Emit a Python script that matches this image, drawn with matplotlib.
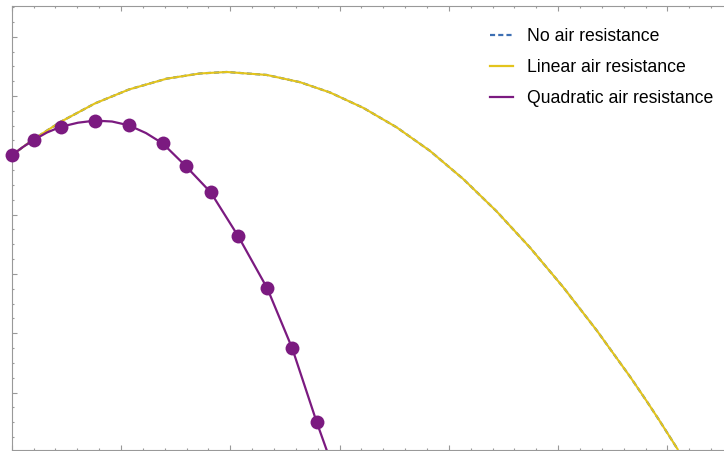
import matplotlib
matplotlib.use("Agg")
import matplotlib.pyplot as plt
from matplotlib.ticker import MultipleLocator, NullFormatter
from matplotlib.lines import Line2D

plt.rcParams['font.family'] = ['Liberation Sans', 'DejaVu Sans']

# trajectory without drag and with linear drag (they practically coincide)
x_free = [0, 2.07, 4.48, 7.62, 10.73, 14.18, 17.23, 19.67, 23.33, 26.38, 29.12,
          32.17, 35.22, 38.27, 41.32, 44.37, 47.42, 50.47, 53.52, 56.57, 58.10, 59.26, 60.93]
y_free = [0, 0.56, 1.13, 1.75, 2.22, 2.585, 2.76, 2.81, 2.71, 2.466, 2.12,
          1.60, 0.944, 0.15, -0.80, -1.89, -3.11, -4.45, -5.90, -7.46, -8.29, -8.94, -9.91]
x_lin = list(x_free)
y_lin = list(y_free)

# quadratic drag: smooth path and the sampled positions
x_quad = [0, 1.03, 2.07, 3.23, 4.48, 6.07, 7.62, 9.18, 10.73, 12.29, 13.82,
          15.92, 18.21, 20.73, 23.39, 25.67, 27.90, 28.80]
y_quad = [0, 0.28, 0.53, 0.77, 0.96, 1.10, 1.17, 1.14, 1.01, 0.75, 0.40,
          -0.36, -1.25, -2.73, -4.49, -6.51, -8.99, -9.92]
x_pts = [0, 2.07, 4.48, 7.62, 10.73, 13.82, 15.92, 18.21, 20.73, 23.39, 25.67, 27.90]
y_pts = [0, 0.53, 0.96, 1.17, 1.01, 0.40, -0.36, -1.25, -2.73, -4.49, -6.51, -8.99]

labels = ["No air resistance", "Linear air resistance", "Quadratic air resistance"]
c_blue = "#3d6fb3"
c_yel = "#e3c41d"
c_pur = "#7b1a80"
dash = (2.3, 1.4)

W, H = 724, 451
fig = plt.figure(figsize=(W / 100, H / 100), dpi=100)
# frame continues past the right edge of the image
left, right, top, bottom = 11.7, 735, 6, 449.5
ax = fig.add_axes([left / W, 1 - bottom / H, (right - left) / W, (bottom - top) / H])

ax.plot(x_free, y_free, color=c_blue, lw=1.6, dashes=dash, zorder=2)
ax.plot(x_lin, y_lin, color=c_yel, lw=1.5, zorder=3)
ax.plot(x_quad, y_quad, color=c_pur, lw=1.6, zorder=4)
ax.plot(x_pts, y_pts, 'o', color=c_pur, ms=10, mec='none', zorder=5, clip_on=False)

ax.set_xlim(0, 66.18)
ax.set_ylim(-9.92, 5.035)

ax.xaxis.set_major_locator(MultipleLocator(10))
ax.xaxis.set_minor_locator(MultipleLocator(2))
ax.yaxis.set_major_locator(MultipleLocator(2))
ax.yaxis.set_minor_locator(MultipleLocator(0.5))
ax.xaxis.set_major_formatter(NullFormatter())
ax.yaxis.set_major_formatter(NullFormatter())
ax.tick_params(which='both', direction='in', top=True, right=True, color='#999999', width=0.8)
ax.tick_params(which='major', length=3.3)
ax.tick_params(which='minor', length=1.6)
for s in ax.spines.values():
    s.set_color('#999999')
    s.set_linewidth(0.8)

handles = [Line2D([], [], color=c_blue, lw=1.6, dashes=dash),
           Line2D([], [], color=c_yel, lw=1.6),
           Line2D([], [], color=c_pur, lw=1.6)]
fig.legend(handles, labels, loc='upper left', bbox_to_anchor=(490 / W, 1 - 28 / H),
           frameon=False, fontsize=12.7, handlelength=1.32, handletextpad=0.76,
           labelspacing=0.8, borderpad=0, borderaxespad=0)

fig.savefig("out.png", dpi=100)
